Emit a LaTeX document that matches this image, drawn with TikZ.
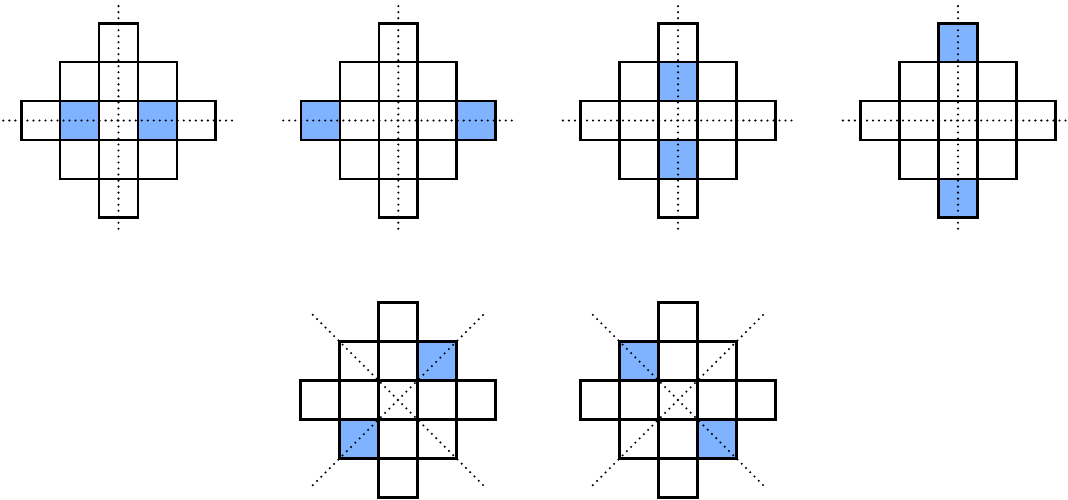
\documentclass[tikz,border=0pt]{standalone}
\definecolor{hlblue}{RGB}{128,179,255}
\tikzset{
  cellbox/.style={draw=black, line width=1.9pt, line join=miter},
  hlcell/.style={fill=hlblue},
  axisline/.style={line width=1.7pt, dash pattern=on 0pt off 4.4pt, line cap=round},
}
\newcommand\drawgridcells{%
  \foreach \i/\j in {0/-2,-1/-1,0/-1,1/-1,-2/0,-1/0,0/0,1/0,2/0,-1/1,0/1,1/1,0/2}
    \draw[cellbox] (\i-0.5,\j-0.5) rectangle (\i+0.5,\j+0.5);%
}
\newcommand\straightaxes{%
  \draw[axisline] (-2.96,0) -- (2.96,0);
  \draw[axisline] (0,-2.94) -- (0,2.92);%
}
\newcommand\diagaxes{%
  \draw[axisline] (-2.19,-2.19) -- (2.19,2.19);
  \draw[axisline] (-2.19,2.19) -- (2.19,-2.19);%
}
\begin{document}
\begin{tikzpicture}[x=1cm,y=-1cm]
\useasboundingbox (0,0) rectangle (27.455,12.828);
% grid 1
\begin{scope}[shift={(3.046,3.098)}]
  \foreach \i/\j in {-1/0,1/0} \fill[hlcell] (\i-0.5,\j-0.5) rectangle (\i+0.5,\j+0.5);
  \straightaxes
  \drawgridcells
\end{scope}
% grid 2
\begin{scope}[shift={(10.24,3.098)}]
  \foreach \i/\j in {-2/0,2/0} \fill[hlcell] (\i-0.5,\j-0.5) rectangle (\i+0.5,\j+0.5);
  \straightaxes
  \drawgridcells
\end{scope}
% grid 3
\begin{scope}[shift={(17.43,3.098)}]
  \foreach \i/\j in {0/-1,0/1} \fill[hlcell] (\i-0.5,\j-0.5) rectangle (\i+0.5,\j+0.5);
  \straightaxes
  \drawgridcells
\end{scope}
% grid 4
\begin{scope}[shift={(24.627,3.098)}]
  \foreach \i/\j in {0/-2,0/2} \fill[hlcell] (\i-0.5,\j-0.5) rectangle (\i+0.5,\j+0.5);
  \straightaxes
  \drawgridcells
\end{scope}
% grid 5
\begin{scope}[shift={(10.231,10.283)}]
  \foreach \i/\j in {1/-1,-1/1} \fill[hlcell] (\i-0.5,\j-0.5) rectangle (\i+0.5,\j+0.5);
  \diagaxes
  \drawgridcells
\end{scope}
% grid 6
\begin{scope}[shift={(17.43,10.283)}]
  \foreach \i/\j in {-1/-1,1/1} \fill[hlcell] (\i-0.5,\j-0.5) rectangle (\i+0.5,\j+0.5);
  \diagaxes
  \drawgridcells
\end{scope}
\end{tikzpicture}
\end{document}
